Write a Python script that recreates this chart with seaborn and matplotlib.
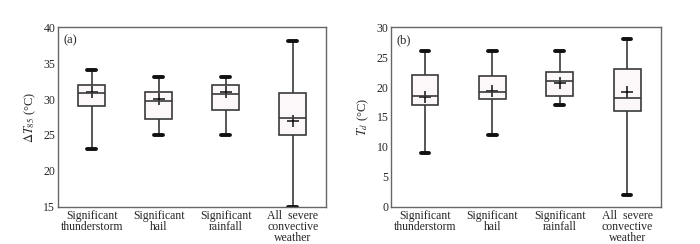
import numpy as np
import pandas as pd
import matplotlib
matplotlib.use('Agg')
import matplotlib.pyplot as plt
from matplotlib.ticker import FixedLocator
import seaborn as sns

# =========== DATA =============
categories = ['Significant\nthunderstorm', 'Significant\nhail',
              'Significant\nrainfall', 'All  severe\nconvective\nweather']

# panel (a): delta T85
a_low = [23, 25, 25, 15]
a_q1 = [29, 27.2, 28.5, 25]
a_med = [30.8, 29.7, 30.7, 27.3]
a_q3 = [32, 31, 32, 30.8]
a_high = [34, 33, 33, 38]
a_mean = [31, 30, 31, 27]

# panel (b): Td
b_low = [9, 12, 17, 2]
b_q1 = [17, 18, 18.5, 16]
b_med = [18.5, 19.1, 21, 18.2]
b_q3 = [22, 21.8, 22.5, 23]
b_high = [26, 26, 26, 28]
b_mean = [18.4, 19.4, 20.6, 19.1]


def five_number_frame(low, q1, med, q3, high):
    # 5 values per group -> quartiles land exactly on q1/med/q3
    rows = []
    for i, cat in enumerate(categories):
        for v in (low[i], q1[i], med[i], q3[i], high[i]):
            rows.append({'cat': cat, 'val': v})
    return pd.DataFrame(rows)


def draw_panel(ax, df, means, ylim, yticks, ylabel, tag):
    sns.boxplot(data=df, x='cat', y='val', ax=ax, order=categories,
                whis=(0, 100), width=0.4, color='#fdf6f9',
                linecolor='#3a3a3a', linewidth=1.2, showfliers=False,
                capprops=dict(linewidth=2.8, color='#111111'),
                capwidths=0.13)
    sns.pointplot(x=categories, y=means, ax=ax, order=categories,
                  linestyle='none', marker='+', markersize=9,
                  markeredgewidth=1.1, color='#111111', errorbar=None)
    ax.set_ylim(*ylim)
    ax.set_xlim(-0.5, len(categories) - 0.5)
    ax.set_yticks(yticks)
    ax.set_xlabel('')
    ax.set_ylabel(ylabel, fontsize=9, labelpad=4)
    ax.tick_params(axis='x', length=0, labelsize=8.5, pad=2.5)
    ax.tick_params(axis='y', direction='in', length=3, labelsize=8.5,
                   pad=2, color='#555555')
    ax.xaxis.set_minor_locator(FixedLocator(np.arange(len(categories) - 1) + 0.5))
    ax.tick_params(axis='x', which='minor', direction='in', length=3,
                   color='#555555')
    for lbl in ax.get_xticklabels():
        lbl.set_linespacing(0.88)
    for s in ax.spines.values():
        s.set_color('#666666')
        s.set_linewidth(1.0)
    ax.text(0.02, 0.96, tag, transform=ax.transAxes, ha='left', va='top',
            fontsize=9)


sns.set_style('white')
plt.rcParams['font.family'] = ['Liberation Serif', 'DejaVu Serif']
plt.rcParams['mathtext.fontset'] = 'stix'

fig = plt.figure(figsize=(7, 2.44), dpi=100)
ax_a = fig.add_axes([0.083, 0.152, 0.383, 0.737])
ax_b = fig.add_axes([0.559, 0.152, 0.385, 0.737])

draw_panel(ax_a, five_number_frame(a_low, a_q1, a_med, a_q3, a_high), a_mean,
           (15, 40), [15, 20, 25, 30, 35, 40], r'$\Delta T_{85}$ (°C)', '(a)')
draw_panel(ax_b, five_number_frame(b_low, b_q1, b_med, b_q3, b_high), b_mean,
           (0, 30), [0, 5, 10, 15, 20, 25, 30], r'$T_{d}$ (°C)', '(b)')

plt.savefig('out.png', dpi=100)
